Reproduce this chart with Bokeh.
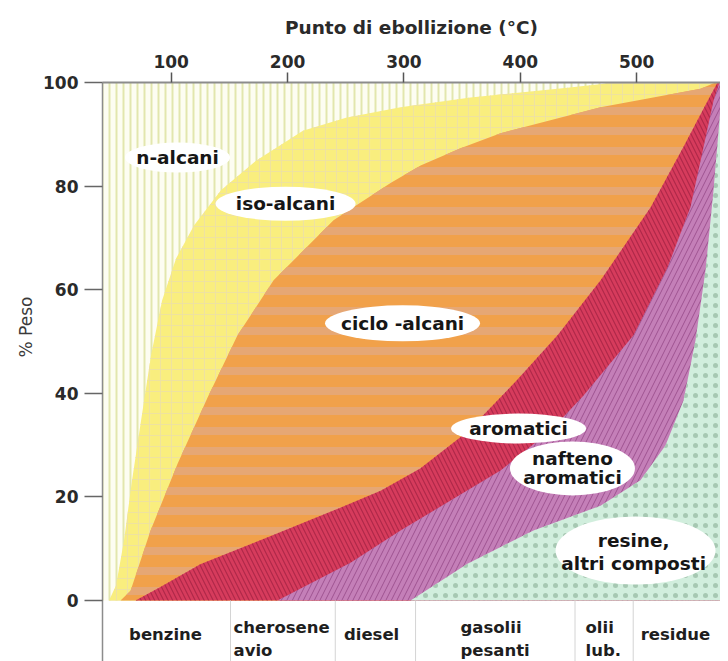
from bokeh.plotting import figure
from bokeh.models import Range1d, FixedTicker, Title
from bokeh.core.properties import value
from bokeh.embed import file_html
from bokeh.resources import INLINE

# ---------------- data ----------------
# cumulative boundary curves: % weight (y) vs boiling point in °C (x)
# top of iso-alcani (above it: n-alcani)
iso_top_x = [46.6, 52.6, 59.5, 66.4, 74.1, 82.7, 92.2, 104.2, 119.6, 142.8, 172.9, 213.2, 250.2, 297.1, 357.2, 440.5, 481.8]
iso_top_y = [0.0, 2.9, 11.6, 23.2, 34.7, 47.3, 57.9, 66.0, 72.4, 79.2, 84.9, 90.7, 93.2, 95.2, 97.1, 99.0, 100.0]
# top of ciclo-alcani
ciclo_top_x = [56.5, 65.1, 82.3, 105.5, 131.3, 157.0, 188.0, 239.5, 288.5, 314.3, 348.6, 383.0, 468.9, 554.8, 567.6]
ciclo_top_y = [0.0, 1.9, 13.5, 26.4, 39.2, 51.2, 61.8, 73.4, 80.6, 84.0, 87.3, 90.2, 95.2, 98.8, 100.0]
# top of aromatici
arom_top_x = [69.4, 90.0, 125.0, 183.0, 240.0, 280.0, 314.0, 354.0, 397.0, 432.0, 469.0, 512.0, 540.0, 561.0, 569.4]
arom_top_y = [0.0, 2.5, 7.0, 12.2, 17.4, 21.2, 25.5, 32.5, 42.5, 51.2, 61.8, 75.9, 87.5, 96.5, 100.0]
# top of nafteno-aromatici
naft_top_x = [191.4, 254.1, 297.1, 383.0, 426.0, 454.0, 497.3, 526.5, 546.2, 557.4, 566.0, 571.1]
naft_top_y = [0.0, 7.3, 13.5, 25.1, 32.8, 39.5, 51.2, 64.3, 75.9, 87.5, 96.5, 100.0]
# top of resine, altri composti
res_top_x = [305.7, 354.6, 411.3, 468.9, 503.2, 524.7, 540.2, 550.5, 559.1, 566.0, 571.1, 573.7]
res_top_y = [0.0, 7.1, 13.5, 18.3, 23.2, 29.9, 38.6, 50.2, 63.7, 79.2, 92.7, 100.0]

x_ticks = [100, 200, 300, 400, 500]
y_ticks = [0, 20, 40, 60, 80, 100]

# product cuts below the chart
cut_bounds = [151, 241, 310, 447, 497]
cut_lines = [["benzine"], ["cherosene", "avio"], ["diesel"], ["gasolii", "pesanti"], ["olii", "lub."], ["residue"]]

X_MIN, X_MAX = 41, 572
Y_BAND = -11.78

# ---------------- figure ----------------
p = figure(width=720, height=661, x_range=Range1d(X_MIN, X_MAX), y_range=Range1d(Y_BAND, 100),
           output_backend="svg", toolbar_location=None, x_axis_location="above",
           min_border_left=102, min_border_top=82, min_border_right=0, min_border_bottom=0,
           background_fill_color="white", border_fill_color="white")
p.grid.visible = False
p.outline_line_color = None

FONT = value("DejaVu Sans")

# n-alcani background
p.quad(left=[X_MIN], right=[X_MAX], bottom=[0], top=[100], fill_color="#FDFDF2", line_color=None,
       hatch_pattern="vertical_line", hatch_color="#E2E6AE", hatch_scale=7, hatch_weight=2)

def region(xs, ys, **kw):
    px = list(xs) + [X_MAX, X_MAX]
    py = list(ys) + [100, 0]
    p.patch(px, py, line_color=None, **kw)

region(iso_top_x, iso_top_y, fill_color="#F9EE7E",
       hatch_pattern="cross", hatch_color="#EEE2A0", hatch_scale=11, hatch_weight=1.2)
region(ciclo_top_x, ciclo_top_y, fill_color="#F1A14A",
       hatch_pattern="horizontal_line", hatch_color="#E6A774", hatch_scale=20, hatch_weight=8)
region(arom_top_x, arom_top_y, fill_color="#D63B5C",
       hatch_pattern="left_diagonal_line", hatch_color="#9E1F40", hatch_alpha=0.7, hatch_scale=9, hatch_weight=1.2)
region(naft_top_x, naft_top_y, fill_color="#C47FB8",
       hatch_pattern="right_diagonal_line", hatch_color="#7D2E70", hatch_alpha=0.55, hatch_scale=11, hatch_weight=1)
region(res_top_x, res_top_y, fill_color="#D1EEDD",
       hatch_pattern="dot", hatch_color="#94B8A0", hatch_alpha=0.7, hatch_scale=10, hatch_weight=1)

# cut separators in the band under the chart
p.segment(x0=cut_bounds, x1=cut_bounds, y0=[0] * len(cut_bounds), y1=[Y_BAND] * len(cut_bounds),
          line_color="#D4D4D4", line_width=1)

# cut labels
cut_x = [95.2, 153.6, 272.2, 348.6, 456.0, 533.3]
cut_align = ["center", "left", "center", "left", "left", "center"]
tx, ty, tt, ta = [], [], [], []
for lines, x, al in zip(cut_lines, cut_x, cut_align):
    rows = [-6.5] if len(lines) == 1 else [-5.2, -9.6]
    for t, y in zip(lines, rows):
        tx.append(x); ty.append(y); tt.append(t); ta.append(al)
for al in ("left", "center"):
    idx = [i for i in range(len(tt)) if ta[i] == al]
    p.text(x=[tx[i] for i in idx], y=[ty[i] for i in idx], text=[tt[i] for i in idx],
           text_font=FONT, text_font_style="bold", text_font_size="16.5px",
           text_align=al, text_baseline="middle", text_color="#1E1E1E")

# region labels on white ellipses
ell_x = [105.5, 198.3, 298.8, 398.5, 444.8, 499.0]
ell_y = [85.5, 76.6, 53.5, 33.2, 25.5, 9.65]
ell_w = [105, 140, 155, 135, 125, 160]
ell_h = [30, 34, 36, 30, 54, 68]
p.ellipse(x=ell_x, y=ell_y, width=ell_w, height=ell_h, width_units="screen", height_units="screen",
          fill_color="white", line_color=None)

lab_text = ["n-alcani", "iso-alcani", "ciclo -alcani", "aromatici", "nafteno", "aromatici", "resine,", "altri composti"]
lab_x = [105.5, 198.3, 298.8, 398.5, 444.8, 444.8, 497.4, 497.4]
lab_y = [85.5, 76.6, 53.5, 33.2, 27.4, 23.7, 11.6, 7.1]
p.text(x=lab_x, y=lab_y, text=lab_text, text_font=FONT, text_font_style="bold",
       text_font_size="18.5px", text_align="center", text_baseline="middle", text_color="#161616")

# axes
xa = p.xaxis[0]
xa.ticker = FixedTicker(ticks=x_ticks)
xa.axis_label = "Punto di ebollizione (°C)"
xa.axis_label_text_font = "DejaVu Sans"
xa.axis_label_text_font_style = "bold"
xa.axis_label_text_font_size = "18.5px"
xa.axis_label_text_color = "#2A2A2A"
xa.axis_label_standoff = 14
xa.major_label_text_font = "DejaVu Sans"
xa.major_label_text_font_style = "bold"
xa.major_label_text_font_size = "17px"
xa.major_label_text_color = "#2A2A2A"
xa.major_label_standoff = 5
xa.axis_line_color = "#8C8C8C"
xa.axis_line_width = 2
xa.major_tick_line_color = "#555555"
xa.major_tick_line_width = 1.5
xa.major_tick_out = 10
xa.major_tick_in = 0
xa.minor_tick_line_color = None

ya = p.yaxis[0]
ya.ticker = FixedTicker(ticks=y_ticks)
ya.major_label_text_font = "DejaVu Sans"
ya.major_label_text_font_style = "bold"
ya.major_label_text_font_size = "17px"
ya.major_label_text_color = "#2A2A2A"
ya.major_label_standoff = 6
ya.axis_line_color = "#8C8C8C"
ya.axis_line_width = 1.5
ya.major_tick_line_color = "#666666"
ya.major_tick_line_width = 1.5
ya.major_tick_out = 18
ya.major_tick_in = 0
ya.minor_tick_line_color = None

p.add_layout(Title(text="% Peso", align="left", offset=304, text_font="DejaVu Sans",
                   text_font_style="normal", text_font_size="17px", text_color="#3A3A3A"), "left")

open("out.html", "w").write(file_html(p, INLINE))
